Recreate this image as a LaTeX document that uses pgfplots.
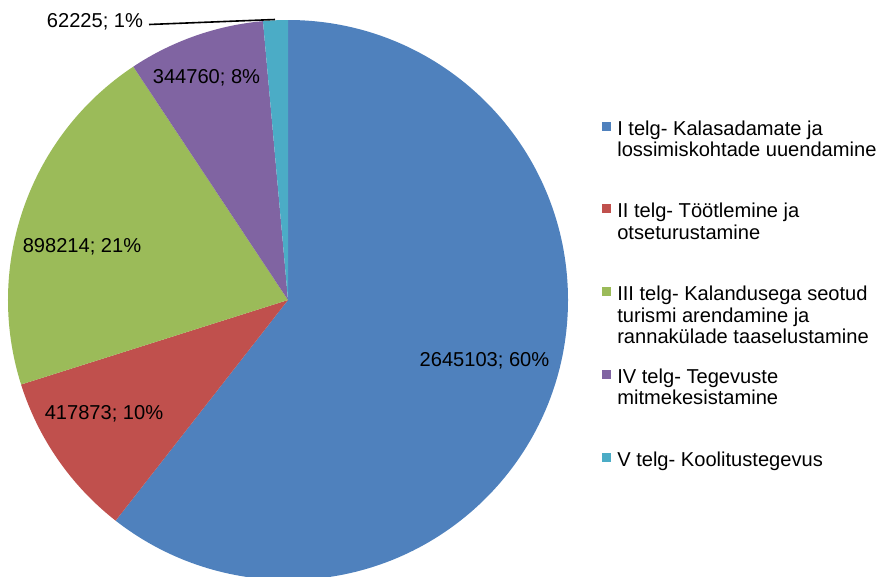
\documentclass[border=0pt]{standalone}
\usepackage{fontspec}
\setmainfont{Liberation Sans}
\usepackage{pgfplots}
\pgfplotsset{compat=1.18}

\definecolor{cI}{HTML}{4F81BD}
\definecolor{cII}{HTML}{C0504D}
\definecolor{cIII}{HTML}{9BBB59}
\definecolor{cIV}{HTML}{8064A2}
\definecolor{cV}{HTML}{4BACC6}

% values of the five axes (telg)
\def\vA{2645103}
\def\vB{417873}
\def\vC{898214}
\def\vD{344760}
\def\vE{62225}
\edef\tot{\fpeval{\vA+\vB+\vC+\vD+\vE}}
% wedge end angles, clockwise from the top
\edef\aA{\fpeval{90-360*\vA/\tot}}
\edef\aB{\fpeval{\aA-360*\vB/\tot}}
\edef\aC{\fpeval{\aB-360*\vC/\tot}}
\edef\aD{\fpeval{\aC-360*\vD/\tot}}
\edef\aE{\fpeval{\aD-360*\vE/\tot}}

\def\R{7cm}
\tikzset{lbl/.style={font=\fontsize{14.3}{15.3}\selectfont, inner sep=0pt}}

\begin{document}
\begin{tikzpicture}
\begin{axis}[
    at={(0,0)}, anchor=south west,
    scale only axis, width=22cm, height=14.4cm,
    xmin=0, xmax=880, ymin=0, ymax=576, y dir=reverse,
    hide axis, clip=true,
]
% pie wedges
\fill[cI]   (axis cs:288,300) -- ++(90:\R)    arc[start angle=90,   end angle=\aA, radius=\R] -- cycle;
\fill[cII]  (axis cs:288,300) -- ++(\aA:\R)  arc[start angle=\aA,  end angle=\aB, radius=\R] -- cycle;
\fill[cIII] (axis cs:288,300) -- ++(\aB:\R)  arc[start angle=\aB,  end angle=\aC, radius=\R] -- cycle;
\fill[cIV]  (axis cs:288,300) -- ++(\aC:\R)  arc[start angle=\aC,  end angle=\aD, radius=\R] -- cycle;
\fill[cV]   (axis cs:288,300) -- ++(\aD:\R)  arc[start angle=\aD,  end angle=\aE, radius=\R] -- cycle;

% data labels
\node[lbl, anchor=base] at (axis cs:484.5,366) {\vA; 60\%};
\node[lbl, anchor=base] at (axis cs:104,419) {\vB; 10\%};
\node[lbl, anchor=base] at (axis cs:82,252) {\vC; 21\%};
\node[lbl, anchor=base] at (axis cs:206.5,83) {\vD; 8\%};
\node[lbl, anchor=base] at (axis cs:95,27) {\vE; 1\%};
\draw[black, line width=0.4mm] (axis cs:149,24.5) -- (axis cs:275,19.5);

% legend
\fill[cI]   (axis cs:601.5,121.5) rectangle (axis cs:610.5,130.5);
\fill[cII]  (axis cs:601.5,204.3) rectangle (axis cs:610.5,213.3);
\fill[cIII] (axis cs:601.5,287.1) rectangle (axis cs:610.5,296.1);
\fill[cIV]  (axis cs:601.5,369.9) rectangle (axis cs:610.5,378.9);
\fill[cV]   (axis cs:601.5,452.7) rectangle (axis cs:610.5,461.7);
\node[lbl, anchor=base west] at (axis cs:617,135)   {I telg- Kalasadamate ja};
\node[lbl, anchor=base west] at (axis cs:617,156.5) {lossimiskohtade uuendamine};
\node[lbl, anchor=base west] at (axis cs:617,217.8) {II telg- Töötlemine ja};
\node[lbl, anchor=base west] at (axis cs:617,239.3) {otseturustamine};
\node[lbl, anchor=base west] at (axis cs:617,300.6) {III telg- Kalandusega seotud};
\node[lbl, anchor=base west] at (axis cs:617,322.1) {turismi arendamine ja};
\node[lbl, anchor=base west] at (axis cs:617,343.6) {rannakülade taaselustamine};
\node[lbl, anchor=base west] at (axis cs:617,383.4) {IV telg- Tegevuste};
\node[lbl, anchor=base west] at (axis cs:617,404.9) {mitmekesistamine};
\node[lbl, anchor=base west] at (axis cs:617,466.2) {V telg- Koolitustegevus};
\end{axis}
\pgfresetboundingbox
\path (0,0) rectangle (22cm,14.4cm);
\end{tikzpicture}
\end{document}
